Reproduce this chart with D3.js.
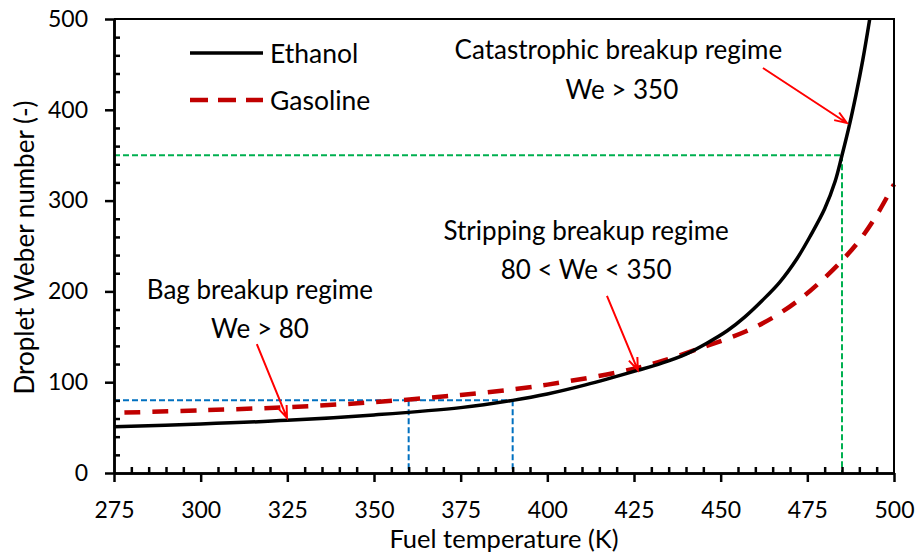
<!DOCTYPE html>
<html>
<head>
<meta charset="utf-8">
<script src="https://cdnjs.cloudflare.com/ajax/libs/d3/7.8.5/d3.min.js"></script>
<style>
  body { margin: 0; background: #fff; }
  svg { display: block; font-family: Lato, "Open Sans", sans-serif; }
  text { fill: #000; }
</style>
</head>
<body>
<svg id="chart" width="919" height="552"></svg>
<script>
// values
var ethanolT  = [275, 300, 325, 350, 375, 390, 400, 411, 426, 433, 440, 446, 452, 457, 462, 467, 472, 476, 480, 483, 485, 487, 489, 491, 493];
var ethanolWe = [51, 54, 58, 64, 72, 80, 87, 97, 113, 121, 131, 143, 157, 172, 190, 210, 236, 262, 291, 321, 350, 381, 416, 455, 500];

var gasolineT  = [278, 300, 325, 350, 375, 392, 406, 421, 432, 446, 457, 465, 472, 478, 485, 490, 495, 500];
var gasolineWe = [66.5, 69, 72.5, 78, 86, 93, 101, 111.5, 122, 140, 155.5, 171, 189, 208, 234, 256, 284, 318];

var xTicks = [275, 300, 325, 350, 375, 400, 425, 450, 475, 500];
var yTicks = [0, 100, 200, 300, 400, 500];

// regime limits
var bagWe = 80, bagT = [360, 390];
var catWe = 350, catT = 485;

// annotation text: [label, T, We] (We = baseline)
var notes = [
  ["Catastrophic breakup regime", 420.5, 455.5],
  ["We > 350", 421.5, 412],
  ["Stripping breakup regime", 411.2, 257],
  ["80 < We < 350", 411.2, 213.5],
  ["Bag breakup regime", 317.1, 191.5],
  ["We > 80", 317.1, 148.5]
];

// arrows: [T0, We0, T1, We1]
var arrows = [
  [462.2, 446, 486.4, 385.5],
  [417.2, 195, 426.1, 113.4],
  [316.2, 142, 324.9, 60.6]
];

var svg = d3.select("#chart");

var x = d3.scaleLinear().domain([275, 500]).range([114, 894]);
var y = d3.scaleLinear().domain([0, 500]).range([473, 19]);

function minorTicks(lo, hi, step, major) {
  return d3.range(lo, hi + 0.001, step).filter(function (v) {
    return major.indexOf(v) < 0;
  });
}

// guide lines
var guides = svg.append("g").attr("fill", "none").attr("stroke-width", 2).attr("stroke-dasharray", "6,3");

guides.append("path")
  .attr("stroke", "#0070C0")
  .attr("d", "M" + x(275) + "," + y(bagWe) + "H" + x(bagT[1]) +
    "M" + x(bagT[0]) + "," + y(bagWe) + "V" + y(0) +
    "M" + x(bagT[1]) + "," + y(bagWe) + "V" + y(0));

guides.append("path")
  .attr("stroke", "#00B050")
  .attr("d", "M" + x(275) + "," + y(catWe) + "H" + x(catT) +
    "M" + x(catT) + "," + y(catWe) + "V" + y(0));

// curves
var line = d3.line()
  .x(function (d) { return x(d[0]); })
  .y(function (d) { return y(d[1]); })
  .curve(d3.curveCatmullRom.alpha(0.5));

svg.append("path")
  .datum(d3.zip(gasolineT, gasolineWe))
  .attr("fill", "none")
  .attr("stroke", "#C00000")
  .attr("stroke-width", 4.5)
  .attr("stroke-dasharray", "16,12")
  .attr("d", line);

svg.append("path")
  .datum(d3.zip(ethanolT, ethanolWe))
  .attr("fill", "none")
  .attr("stroke", "#000")
  .attr("stroke-width", 3.5)
  .attr("d", line);

// frame (top + right)
svg.append("path")
  .attr("fill", "none")
  .attr("stroke", "#000")
  .attr("stroke-width", 2)
  .attr("d", "M" + x(275) + "," + y(500) + "H" + x(500) + "V" + y(0));

// axes
var xAxis = svg.append("g").attr("transform", "translate(0," + y(0) + ")");
xAxis.call(d3.axisBottom(x).tickValues(minorTicks(275, 500, 5, xTicks)).tickSize(-6).tickSizeOuter(0).tickFormat(""));
xAxis.append("g").call(d3.axisBottom(x).tickValues(xTicks).tickSize(9).tickSizeOuter(0).tickPadding(20));

var yAxis = svg.append("g").attr("transform", "translate(" + x(275) + ",0)");
yAxis.call(d3.axisLeft(y).tickValues(minorTicks(0, 500, 20, yTicks)).tickSize(-6).tickSizeOuter(0).tickFormat(""));
yAxis.append("g").call(d3.axisLeft(y).tickValues(yTicks).tickSize(9).tickSizeOuter(0).tickPadding(17));

svg.selectAll(".domain, .tick line").attr("stroke", "#000").attr("stroke-width", 2.5);
svg.selectAll(".tick text")
  .attr("font-family", "Lato, sans-serif")
  .attr("font-size", 23)
  .attr("fill", "#000");

// axis titles
svg.append("text")
  .attr("x", (x(275) + x(500)) / 2)
  .attr("y", 548)
  .attr("text-anchor", "middle")
  .attr("font-size", 25.5)
  .text("Fuel temperature (K)");

svg.append("text")
  .attr("transform", "translate(33.5," + ((y(0) + y(500)) / 2 + 1.5) + ") rotate(-90)")
  .attr("text-anchor", "middle")
  .attr("font-size", 26)
  .text("Droplet Weber number (-)");

// annotations
svg.selectAll(".note")
  .data(notes)
  .enter().append("text")
  .attr("class", "note")
  .attr("x", function (d) { return x(d[1]); })
  .attr("y", function (d) { return y(d[2]); })
  .attr("text-anchor", "middle")
  .attr("font-size", 26)
  .text(function (d) { return d[0]; });

function arrowPath(d) {
  var x0 = x(d[0]), y0 = y(d[1]), x1 = x(d[2]), y1 = y(d[3]);
  var a = Math.atan2(y1 - y0, x1 - x0), len = 13, spread = 0.36;
  return "M" + x0 + "," + y0 + "L" + x1 + "," + y1 +
    "M" + (x1 - len * Math.cos(a - spread)) + "," + (y1 - len * Math.sin(a - spread)) +
    "L" + x1 + "," + y1 +
    "L" + (x1 - len * Math.cos(a + spread)) + "," + (y1 - len * Math.sin(a + spread));
}

svg.selectAll(".arrow")
  .data(arrows)
  .enter().append("path")
  .attr("class", "arrow")
  .attr("fill", "none")
  .attr("stroke", "#FF0000")
  .attr("stroke-width", 2)
  .attr("d", arrowPath);

// legend
var legend = svg.append("g");
var items = [["Ethanol", "#000", 3.5, null], ["Gasoline", "#C00000", 4.5, "18,10"]];
items.forEach(function (it, i) {
  var ly = 53 + i * 47;
  legend.append("line")
    .attr("x1", 190).attr("x2", 263)
    .attr("y1", ly).attr("y2", ly)
    .attr("stroke", it[1])
    .attr("stroke-width", it[2])
    .attr("stroke-dasharray", it[3]);
  legend.append("text")
    .attr("x", 270)
    .attr("y", ly + 9.5)
    .attr("font-size", 26.5)
    .text(it[0]);
});
</script>
</body>
</html>
